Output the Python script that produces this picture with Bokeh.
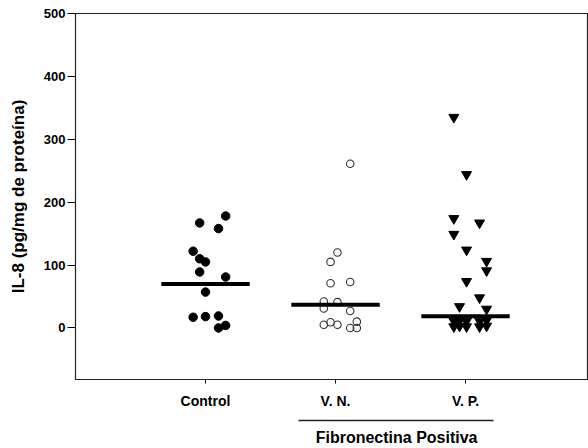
from bokeh.plotting import figure
from bokeh.models import Range1d, FixedTicker, LinearAxis, ColumnDataSource
from bokeh.embed import file_html
from bokeh.resources import INLINE

# ---- data ----
categories = ["Control", "V. N.", "V. P."]
cat_pos = [1, 2, 3]

control_vals = [178, 167, 158, 122, 110, 105, 89, 81, 57, 17, 18, 19, 0, 4]
control_dx = [0.155, -0.045, 0.10, -0.095, -0.045, 0.0, -0.045, 0.155, 0.0, -0.095, 0.0, 0.10, 0.10, 0.155]

vn_vals = [261, 120, 105, 71, 73, 42, 41, 31, 27, 5, 9, 5, 0, 10, 0]
vn_dx = [0.113, 0.015, -0.038, -0.038, 0.113, -0.09, 0.015, -0.09, 0.113, -0.09, -0.038, 0.015, 0.113, 0.164, 0.164]

vp_vals = [335, 244, 174, 167, 149, 124, 106, 91, 74, 48, 34, 30,
           11, 12, 11, 11, 12, 2, 3, 2, 2, 3]
vp_dx = [-0.09, 0.008, -0.09, 0.108, -0.09, 0.008, 0.162, 0.162, 0.008, 0.108, -0.046, 0.162,
         -0.09, -0.046, 0.008, 0.108, 0.162, -0.09, -0.046, 0.008, 0.108, 0.162]

group_lines = [70, 37, 18.5]

y_ticks = [0, 100, 200, 300, 400, 500]
y_label = "IL-8 (pg/mg de proteína)"
bracket_label = "Fibronectina Positiva"

FONT = "Liberation Sans"

p = figure(width=588, height=448, output_backend="svg", toolbar_location=None,
           x_range=Range1d(0, 3.946), y_range=Range1d(-82, 500),
           min_border_left=75, min_border_right=0, min_border_top=13, min_border_bottom=67)

p.xgrid.visible = False
p.ygrid.visible = False
p.outline_line_color = "#222222"
p.outline_line_width = 1.2
p.background_fill_color = "white"
p.border_fill_color = "white"

# axes
p.xaxis.ticker = FixedTicker(ticks=cat_pos)
p.xaxis.major_label_overrides = {c: l for c, l in zip(cat_pos, categories)}
p.xaxis.minor_tick_line_color = None
p.xaxis.major_tick_out = 4
p.xaxis.major_tick_in = 0
p.xaxis.major_label_standoff = 9
p.xaxis.major_label_text_font = FONT
p.xaxis.major_label_text_font_style = "bold"
p.xaxis.major_label_text_font_size = "14px"
p.xaxis.major_label_text_color = "black"
p.xaxis.axis_line_color = "#222222"
# small blank spacer between category labels and the bracket
p.xaxis.axis_label = " "
p.xaxis.axis_label_text_font_size = "5px"
p.xaxis.axis_label_standoff = 0

p.yaxis.ticker = FixedTicker(ticks=y_ticks)
p.yaxis.minor_tick_line_color = None
p.yaxis.major_tick_out = 8
p.yaxis.major_tick_in = 0
p.yaxis.major_label_standoff = 2
p.yaxis.major_label_text_font = FONT
p.yaxis.major_label_text_font_style = "bold"
p.yaxis.major_label_text_font_size = "13px"
p.yaxis.major_label_text_color = "black"
p.yaxis.axis_line_color = "#222222"
p.yaxis.axis_label = y_label
p.yaxis.axis_label_text_font = FONT
p.yaxis.axis_label_text_font_style = "bold"
p.yaxis.axis_label_text_font_size = "17px"
p.yaxis.axis_label_text_color = "black"
p.yaxis.axis_label_standoff = 13

# bracket axis below (line limited by bounds, label as single tick label)
br_start = cat_pos[1] - 0.285
br_end = cat_pos[2] + 0.215
br_mid = round((cat_pos[1] + cat_pos[2]) / 2 - 0.03, 2)
axis2 = LinearAxis(bounds=(br_start, br_end), ticker=FixedTicker(ticks=[br_mid]),
                   major_label_overrides={br_mid: bracket_label})
axis2.major_tick_line_color = None
axis2.minor_tick_line_color = None
axis2.major_tick_out = 0
axis2.major_tick_in = 0
axis2.major_label_standoff = 8
axis2.axis_line_color = "#222222"
axis2.axis_line_width = 1.5
axis2.major_label_text_font = FONT
axis2.major_label_text_font_style = "bold"
axis2.major_label_text_font_size = "16px"
axis2.major_label_text_color = "black"
p.add_layout(axis2, "below")

# points
src_c = ColumnDataSource(dict(x=[cat_pos[0] + d for d in control_dx], y=control_vals))
src_n = ColumnDataSource(dict(x=[cat_pos[1] + d for d in vn_dx], y=vn_vals))
src_p = ColumnDataSource(dict(x=[cat_pos[2] + d for d in vp_dx], y=vp_vals))

p.scatter("x", "y", source=src_c, marker="circle", size=8.5, fill_color="black", line_color="black")
p.scatter("x", "y", source=src_n, marker="circle", size=7.5, fill_color=None, line_color="#333333", line_width=1.1)
p.scatter("x", "y", source=src_p, marker="inverted_triangle", size=10, fill_color="black", line_color="black")

# group lines
half = 0.34
p.segment(x0=[c - half for c in cat_pos], x1=[c + half for c in cat_pos],
          y0=group_lines, y1=group_lines, line_color="black", line_width=4)

open("out.html", "w").write(file_html(p, INLINE))
